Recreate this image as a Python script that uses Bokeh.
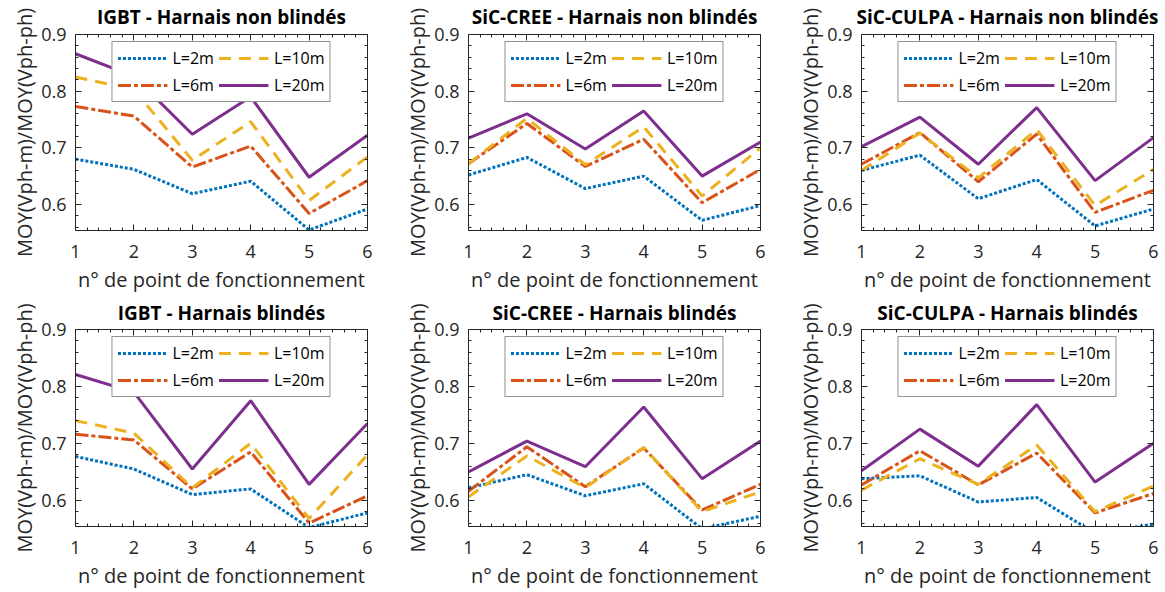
from bokeh.plotting import figure
from bokeh.layouts import gridplot
from bokeh.models import Range1d, LinearAxis, FixedTicker
from bokeh.embed import file_html
from bokeh.resources import INLINE

# ---------------- data ----------------
x_points = [1, 2, 3, 4, 5, 6]
series_names = ["L=2m", "L=6m", "L=10m", "L=20m"]
x_ticks = [1, 2, 3, 4, 5, 6]
y_ticks = [0.6, 0.7, 0.8, 0.9]
panel_titles = [
    "IGBT - Harnais non blindés",
    "SiC-CREE - Harnais non blindés",
    "SiC-CULPA - Harnais non blindés",
    "IGBT - Harnais blindés",
    "SiC-CREE - Harnais blindés",
    "SiC-CULPA - Harnais blindés",
]
x_label = "n° de point de fonctionnement"
y_label = "MOY(Vph-m)/MOY(Vph-ph)"

igbt_nb_2m = [0.680, 0.662, 0.619, 0.641, 0.555, 0.592]
igbt_nb_6m = [0.773, 0.756, 0.666, 0.703, 0.584, 0.642]
igbt_nb_10m = [0.825, 0.803, 0.678, 0.746, 0.607, 0.684]
igbt_nb_20m = [0.866, 0.826, 0.724, 0.790, 0.648, 0.722]

cree_nb_2m = [0.652, 0.683, 0.628, 0.650, 0.572, 0.598]
cree_nb_6m = [0.672, 0.743, 0.667, 0.715, 0.603, 0.662]
cree_nb_10m = [0.672, 0.752, 0.670, 0.737, 0.615, 0.700]
cree_nb_20m = [0.717, 0.760, 0.698, 0.765, 0.650, 0.710]

culpa_nb_2m = [0.660, 0.687, 0.610, 0.644, 0.562, 0.592]
culpa_nb_6m = [0.671, 0.727, 0.640, 0.724, 0.586, 0.625]
culpa_nb_10m = [0.660, 0.726, 0.647, 0.732, 0.598, 0.662]
culpa_nb_20m = [0.702, 0.754, 0.671, 0.771, 0.642, 0.718]

igbt_b_2m = [0.677, 0.655, 0.610, 0.620, 0.552, 0.578]
igbt_b_6m = [0.716, 0.706, 0.620, 0.685, 0.560, 0.608]
igbt_b_10m = [0.740, 0.718, 0.622, 0.700, 0.568, 0.680]
igbt_b_20m = [0.821, 0.790, 0.655, 0.775, 0.628, 0.735]

cree_b_2m = [0.622, 0.645, 0.608, 0.629, 0.550, 0.572]
cree_b_6m = [0.616, 0.694, 0.624, 0.692, 0.583, 0.628]
cree_b_10m = [0.606, 0.678, 0.622, 0.693, 0.580, 0.615]
cree_b_20m = [0.650, 0.704, 0.659, 0.764, 0.638, 0.704]

culpa_b_2m = [0.638, 0.643, 0.597, 0.605, 0.542, 0.558]
culpa_b_6m = [0.627, 0.687, 0.627, 0.683, 0.578, 0.612]
culpa_b_10m = [0.618, 0.673, 0.628, 0.697, 0.580, 0.625]
culpa_b_20m = [0.652, 0.725, 0.660, 0.768, 0.632, 0.700]

panels = [
    [igbt_nb_2m, igbt_nb_6m, igbt_nb_10m, igbt_nb_20m],
    [cree_nb_2m, cree_nb_6m, cree_nb_10m, cree_nb_20m],
    [culpa_nb_2m, culpa_nb_6m, culpa_nb_10m, culpa_nb_20m],
    [igbt_b_2m, igbt_b_6m, igbt_b_10m, igbt_b_20m],
    [cree_b_2m, cree_b_6m, cree_b_10m, cree_b_20m],
    [culpa_b_2m, culpa_b_6m, culpa_b_10m, culpa_b_20m],
]

# ---------------- style ----------------
colors = ["#0072BD", "#D95319", "#EDB120", "#7E2F8E"]
dashes = ["3 2", "13 3 4 3", "12 8", "solid"]
FONT = "Open Sans"
TXT = "#262626"
x_minor = [round(1 + 0.2 * i, 2) for i in range(26) if i % 5 != 0]
y_minor = [round(0.56 + 0.02 * i, 2) for i in range(17) if i % 5 != 2]

fig_widths = [388, 388, 389]
fig_heights = [296, 296]
FRAME_W = 292
frame_heights = [196, 197]
lefts = [75, 80, 85]
tops = [34, 33]
title_standoffs = [5, 4]


def style_axis(ax, ticks, minor, labels=True):
    ax.ticker = FixedTicker(ticks=ticks, minor_ticks=minor)
    ax.axis_line_color = TXT
    ax.axis_line_width = 1
    ax.major_tick_line_color = TXT
    ax.minor_tick_line_color = TXT
    ax.major_tick_in = 6
    ax.major_tick_out = 0
    ax.minor_tick_in = 3
    ax.minor_tick_out = 0
    if labels:
        ax.major_label_text_font = FONT
        ax.major_label_text_font_size = "18px"
        ax.major_label_text_color = TXT
        ax.axis_label_text_font = FONT
        ax.axis_label_text_font_size = "20px"
        ax.axis_label_text_font_style = "normal"
        ax.axis_label_text_color = TXT
    else:
        ax.major_label_text_color = None
        ax.major_label_text_font_size = "1px"
        ax.major_label_standoff = 0


figs = []
for idx, (title, data) in enumerate(zip(panel_titles, panels)):
    row, col = divmod(idx, 3)
    W, H = fig_widths[col], fig_heights[row]
    left = lefts[col]
    right = W - left - FRAME_W
    top = tops[row]
    bottom = H - top - frame_heights[row]
    p = figure(
        width=W, height=H,
        x_range=Range1d(1, 6), y_range=Range1d(0.554, 0.9),
        output_backend="svg", toolbar_location=None,
        min_border_left=left, min_border_right=right,
        min_border_top=top, min_border_bottom=bottom,
        x_axis_label=x_label, y_axis_label=y_label,
        title=title,
    )
    p.title.align = "center"
    p.title.vertical_align = "top"
    p.title.text_font = FONT
    p.title.text_font_size = "19px"
    p.title.text_font_style = "bold"
    p.title.text_color = "#000000"
    p.title.standoff = title_standoffs[row]

    p.xgrid.visible = False
    p.ygrid.visible = False
    p.outline_line_color = None
    p.background_fill_color = "white"
    p.border_fill_color = "white"

    style_axis(p.xaxis[0], x_ticks, x_minor)
    style_axis(p.yaxis[0], y_ticks, y_minor)
    p.xaxis[0].major_label_standoff = 14
    p.xaxis[0].axis_label_standoff = 5
    p.yaxis[0].major_label_standoff = 9
    p.yaxis[0].axis_label_standoff = 0

    top_ax = LinearAxis()
    style_axis(top_ax, x_ticks, x_minor, labels=False)
    p.add_layout(top_ax, "above")
    right_ax = LinearAxis()
    style_axis(right_ax, y_ticks, y_minor, labels=False)
    p.add_layout(right_ax, "right")

    for name, ys, c, d in zip(series_names, data, colors, dashes):
        p.line(x_points, ys, line_color=c, line_width=3, line_dash=d,
               legend_label=name)

    lg = p.legend[0]
    lg.location = "top_center"
    lg.orientation = "vertical"
    lg.ncols = 2
    lg.margin = 7
    lg.padding = 5
    lg.spacing = 5
    lg.glyph_width = 50
    lg.glyph_height = 20
    lg.label_standoff = 5
    lg.label_text_font = FONT
    lg.label_text_font_size = "16px"
    lg.label_text_color = "#000000"
    lg.border_line_color = TXT
    lg.border_line_width = 1
    lg.background_fill_color = "white"
    lg.background_fill_alpha = 1
    figs.append(p)

grid = gridplot([figs[0:3], figs[3:6]], toolbar_location=None)

open("out.html", "w").write(file_html(grid, INLINE))
